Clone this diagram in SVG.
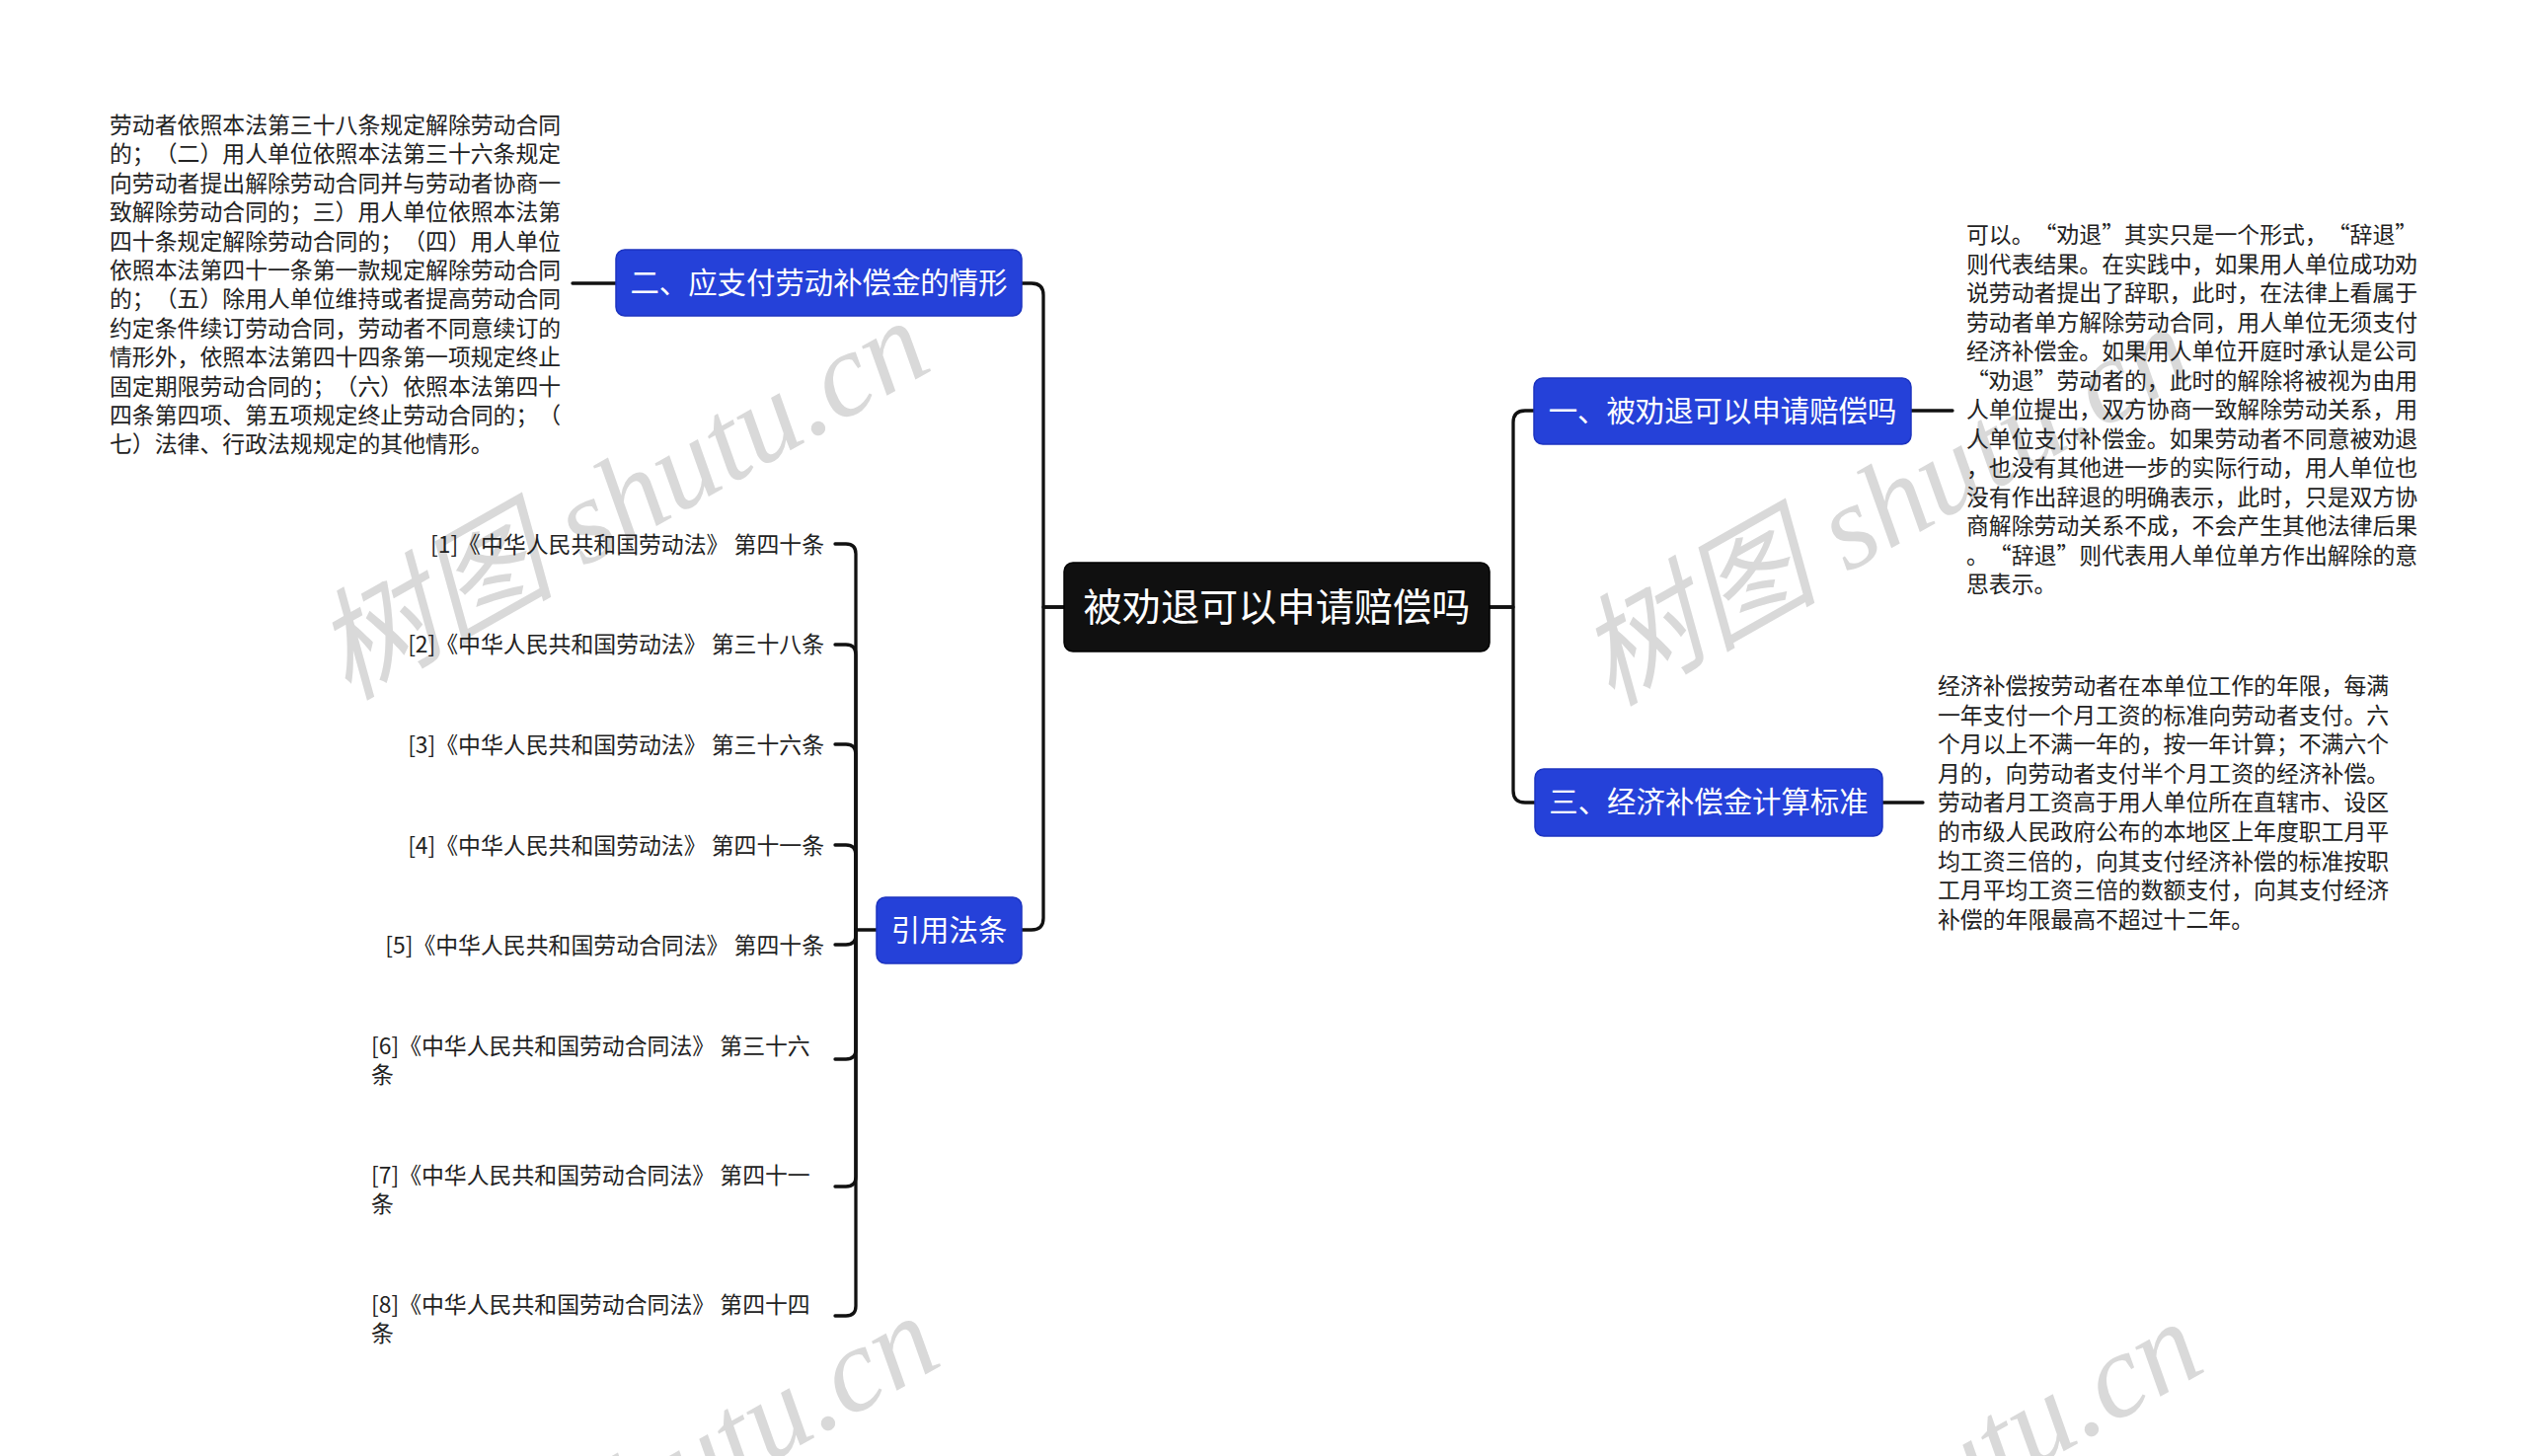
<svg xmlns="http://www.w3.org/2000/svg" width="2560" height="1475" viewBox="0 0 2560 1475">
<style>
.bg{fill:#ffffff}
.wm{font-family:"Liberation Serif","Noto Sans CJK SC",serif;font-style:italic;font-size:122px;fill:#d9d9d9}
.root{fill:#101010;stroke:#000;stroke-width:1.5}
.topic{fill:#2541d9;stroke:#1c33c0;stroke-width:1.5}
.rt{font-family:"Noto Sans CJK SC","Noto Sans CJK JP",sans-serif;font-size:39.2px;fill:#ffffff;text-anchor:middle;dominant-baseline:central;transform:translateY(-3px)}
.tt{font-family:"Noto Sans CJK SC","Noto Sans CJK JP",sans-serif;font-size:29.4px;fill:#ffffff;text-anchor:middle;dominant-baseline:central;transform:translateY(-3px)}
.lt{font-family:"Noto Sans CJK SC","Noto Sans CJK JP",sans-serif;font-size:22.86px;fill:#222222;dominant-baseline:central;text-spacing-trim:space-all;transform:translateY(-2px)}
.fw{font-feature-settings:"fwid" 1}
.end{text-anchor:end}
.ln{fill:none;stroke:#111111;stroke-width:3.3;stroke-linecap:round;stroke-linejoin:round}
</style>
<rect class="bg" x="0" y="0" width="2560" height="1475"/>
<g id="watermarks">
<text class="wm" transform="translate(352,710) rotate(-29.5)">树图 shutu.cn</text>
<text class="wm" transform="translate(1632,716) rotate(-29.5)">树图 shutu.cn</text>
<text class="wm" transform="translate(362,1718) rotate(-29.5)">树图 shutu.cn</text>
<text class="wm" transform="translate(1642,1724) rotate(-29.5)">树图 shutu.cn</text>
</g>
<g id="connectors">
<path class="ln" d="M1078,615 H1057 V299 Q1057,287 1045,287 H1035"/>
<path class="ln" d="M1078,615 H1057 V930 Q1057,942 1045,942 H1035"/>
<path class="ln" d="M1509,615 H1533 V428 Q1533,416 1545,416 H1554"/>
<path class="ln" d="M1509,615 H1533 V801 Q1533,813 1545,813 H1555"/>
<path class="ln" d="M624,287 H580"/>
<path class="ln" d="M1936,416 H1978"/>
<path class="ln" d="M1907,813 H1948"/>
<path class="ln" d="M888,942 H867 V561 Q867,551 857,551 H846"/>
<path class="ln" d="M867,942 V663 Q867,653 857,653 H846"/>
<path class="ln" d="M867,942 V764 Q867,754 857,754 H846"/>
<path class="ln" d="M867,942 V866 Q867,856 857,856 H846"/>
<path class="ln" d="M867,942 V947 Q867,957 857,957 H846"/>
<path class="ln" d="M867,942 V1063 Q867,1073 857,1073 H846"/>
<path class="ln" d="M867,942 V1192 Q867,1202 857,1202 H846"/>
<path class="ln" d="M867,942 V1323 Q867,1333 857,1333 H846"/>
</g>
<g id="root">
<rect class="root" x="1078" y="570" width="431" height="90" rx="9"/>
<text class="rt" x="1293.5" y="615">被劝退可以申请赔偿吗</text>
</g>
<g id="node-2">
<rect class="topic" x="624" y="253" width="411" height="67" rx="9"/>
<text class="tt" x="829.5" y="287">二、应支付劳动补偿金的情形</text>
</g>
<g id="node-1">
<rect class="topic" x="1554" y="383" width="382" height="67" rx="9"/>
<text class="tt" x="1745" y="417">一、被劝退可以申请赔偿吗</text>
</g>
<g id="node-3">
<rect class="topic" x="1555" y="779" width="352" height="68" rx="9"/>
<text class="tt" x="1731" y="813">三、经济补偿金计算标准</text>
</g>
<g id="node-cite">
<rect class="topic" x="888" y="909" width="147" height="67" rx="9"/>
<text class="tt" x="961.5" y="943">引用法条</text>
</g>
<g id="leaf-2">
<text class="lt" x="111">
<tspan x="111" y="127">劳动者依照本法第三十八条规定解除劳动合同</tspan>
<tspan x="111" y="156.4">的；（二）用人单位依照本法第三十六条规定</tspan>
<tspan x="111" y="185.8">向劳动者提出解除劳动合同并与劳动者协商一</tspan>
<tspan x="111" y="215.2">致解除劳动合同的；三）用人单位依照本法第</tspan>
<tspan x="111" y="244.6">四十条规定解除劳动合同的；（四）用人单位</tspan>
<tspan x="111" y="274">依照本法第四十一条第一款规定解除劳动合同</tspan>
<tspan x="111" y="303.4">的；（五）除用人单位维持或者提高劳动合同</tspan>
<tspan x="111" y="332.8">约定条件续订劳动合同，劳动者不同意续订的</tspan>
<tspan x="111" y="362.2">情形外，依照本法第四十四条第一项规定终止</tspan>
<tspan x="111" y="391.6">固定期限劳动合同的；（六）依照本法第四十</tspan>
<tspan x="111" y="421">四条第四项、第五项规定终止劳动合同的；（</tspan>
<tspan x="111" y="450.4">七）法律、行政法规规定的其他情形。</tspan>
</text>
</g>
<g id="leaf-1">
<text class="lt">
<tspan x="1992" y="238">可以。<tspan class="fw">“</tspan>劝退<tspan class="fw">”</tspan>其实只是一个形式，<tspan class="fw">“</tspan>辞退<tspan class="fw">”</tspan></tspan>
<tspan x="1992" y="267.5">则代表结果。在实践中，如果用人单位成功劝</tspan>
<tspan x="1992" y="297">说劳动者提出了辞职，此时，在法律上看属于</tspan>
<tspan x="1992" y="326.5">劳动者单方解除劳动合同，用人单位无须支付</tspan>
<tspan x="1992" y="356">经济补偿金。如果用人单位开庭时承认是公司</tspan>
<tspan x="1992" y="385.5"><tspan class="fw">“</tspan>劝退<tspan class="fw">”</tspan>劳动者的，此时的解除将被视为由用</tspan>
<tspan x="1992" y="415">人单位提出，双方协商一致解除劳动关系，用</tspan>
<tspan x="1992" y="444.5">人单位支付补偿金。如果劳动者不同意被劝退</tspan>
<tspan x="1992" y="474">，也没有其他进一步的实际行动，用人单位也</tspan>
<tspan x="1992" y="503.5">没有作出辞退的明确表示，此时，只是双方协</tspan>
<tspan x="1992" y="533">商解除劳动关系不成，不会产生其他法律后果</tspan>
<tspan x="1992" y="562.5">。<tspan class="fw">“</tspan>辞退<tspan class="fw">”</tspan>则代表用人单位单方作出解除的意</tspan>
<tspan x="1992" y="592">思表示。</tspan>
</text>
</g>
<g id="leaf-3">
<text class="lt">
<tspan x="1963" y="695">经济补偿按劳动者在本单位工作的年限，每满</tspan>
<tspan x="1963" y="724.6">一年支付一个月工资的标准向劳动者支付。六</tspan>
<tspan x="1963" y="754.2">个月以上不满一年的，按一年计算；不满六个</tspan>
<tspan x="1963" y="783.8">月的，向劳动者支付半个月工资的经济补偿。</tspan>
<tspan x="1963" y="813.4">劳动者月工资高于用人单位所在直辖市、设区</tspan>
<tspan x="1963" y="843">的市级人民政府公布的本地区上年度职工月平</tspan>
<tspan x="1963" y="872.6">均工资三倍的，向其支付经济补偿的标准按职</tspan>
<tspan x="1963" y="902.2">工月平均工资三倍的数额支付，向其支付经济</tspan>
<tspan x="1963" y="931.8">补偿的年限最高不超过十二年。</tspan>
</text>
</g>
<g id="cite-1"><text class="lt end" x="835" y="552">[1]《中华人民共和国劳动法》 第四十条</text></g>
<g id="cite-2"><text class="lt end" x="835" y="653">[2]《中华人民共和国劳动法》 第三十八条</text></g>
<g id="cite-3"><text class="lt end" x="835" y="755">[3]《中华人民共和国劳动法》 第三十六条</text></g>
<g id="cite-4"><text class="lt end" x="835" y="857">[4]《中华人民共和国劳动法》 第四十一条</text></g>
<g id="cite-5"><text class="lt end" x="835" y="958">[5]《中华人民共和国劳动合同法》 第四十条</text></g>
<g id="cite-6"><text class="lt"><tspan x="376" y="1060">[6]《中华人民共和国劳动合同法》 第三十六</tspan><tspan x="376" y="1089">条</tspan></text></g>
<g id="cite-7"><text class="lt"><tspan x="376" y="1191">[7]《中华人民共和国劳动合同法》 第四十一</tspan><tspan x="376" y="1220">条</tspan></text></g>
<g id="cite-8"><text class="lt"><tspan x="376" y="1322">[8]《中华人民共和国劳动合同法》 第四十四</tspan><tspan x="376" y="1351">条</tspan></text></g>
</svg>
